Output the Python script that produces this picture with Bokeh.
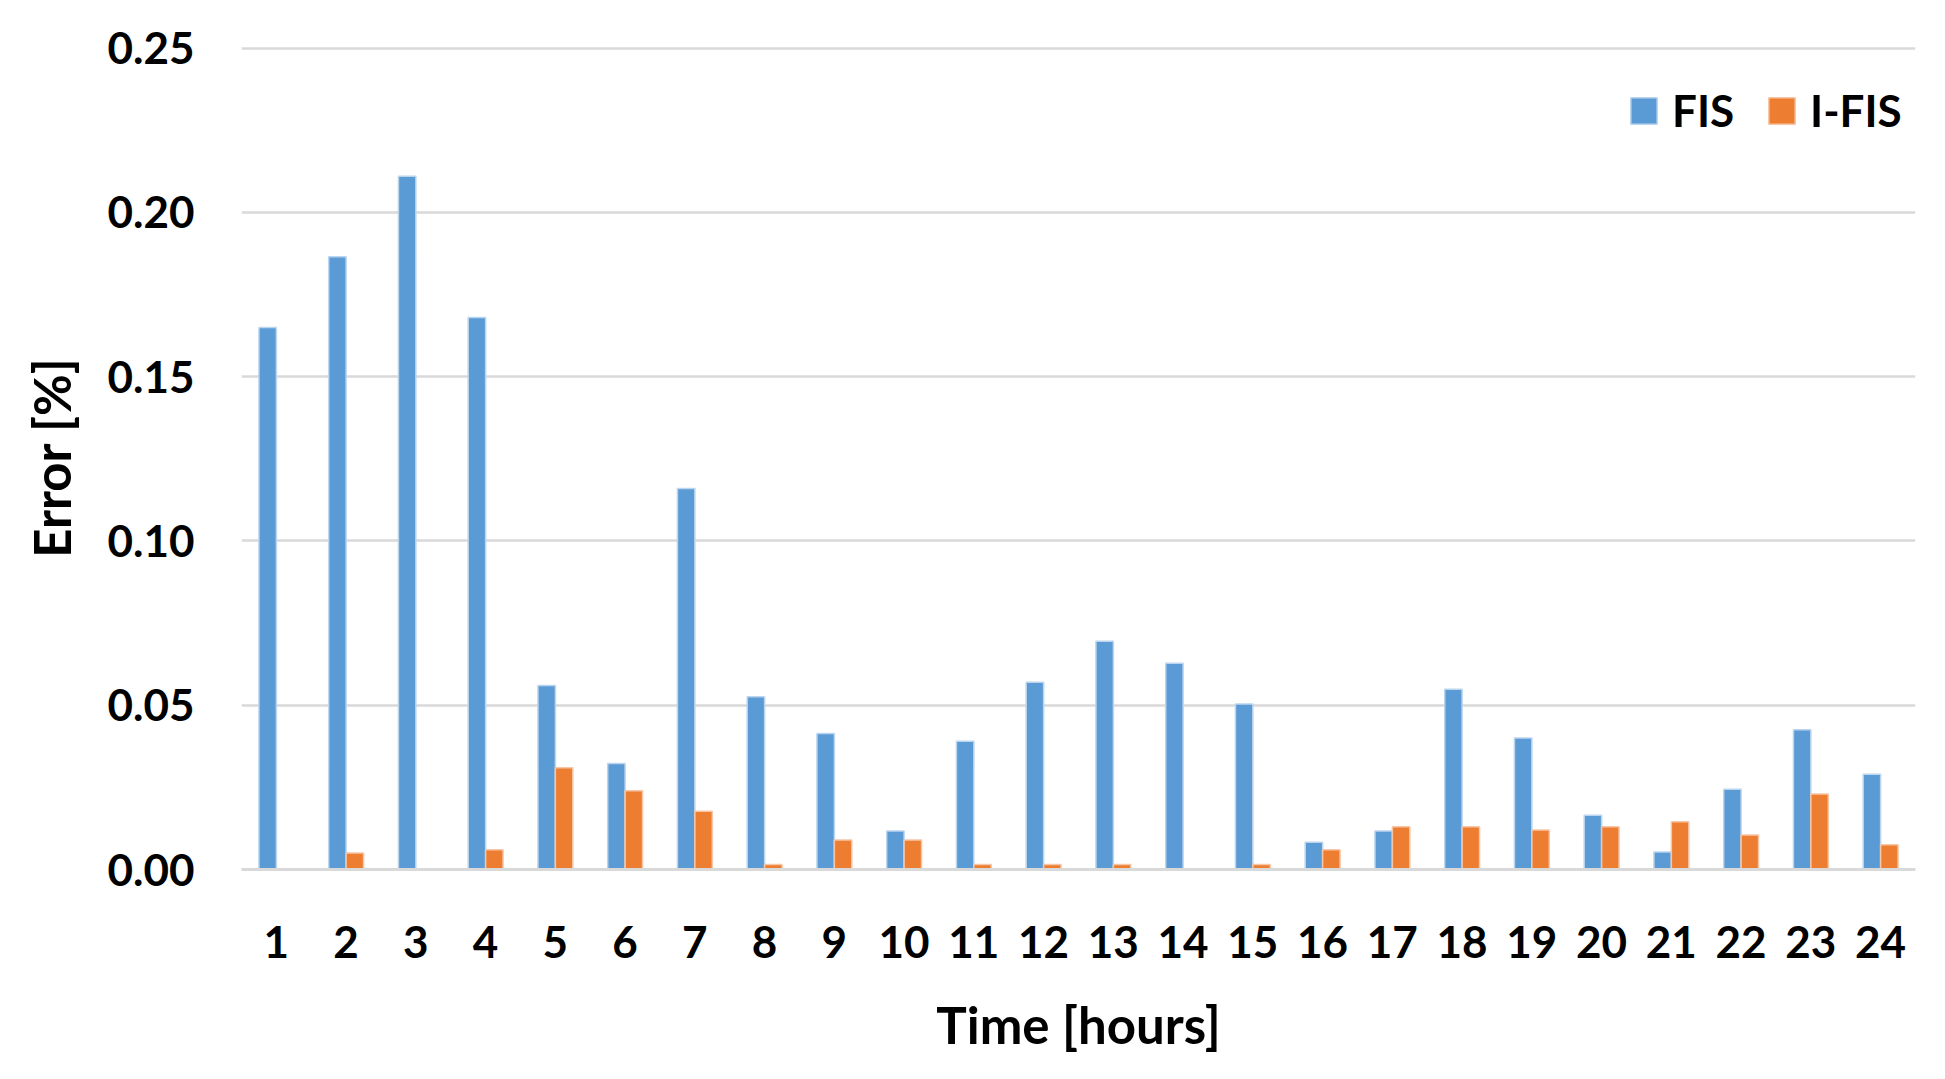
from bokeh.plotting import figure
from bokeh.models import ColumnDataSource, FixedTicker, NumeralTickFormatter, Range1d, Legend, LegendItem
from bokeh.transform import dodge
from bokeh.embed import file_html
from bokeh.resources import INLINE

hours = list(range(1, 25))
fis = [0.165, 0.1865, 0.211, 0.168, 0.056, 0.0323, 0.116, 0.0526, 0.0414, 0.0117, 0.039, 0.057,
       0.0695, 0.0628, 0.0504, 0.0083, 0.0117, 0.0549, 0.040, 0.0165, 0.0053, 0.0244, 0.0425, 0.029]
ifis = [0.0, 0.005, 0.0, 0.006, 0.031, 0.024, 0.0177, 0.0015, 0.009, 0.009, 0.0015, 0.0015,
        0.0015, 0.0, 0.0015, 0.006, 0.013, 0.013, 0.012, 0.013, 0.0145, 0.0105, 0.023, 0.0075]
y_ticks = [0.0, 0.05, 0.10, 0.15, 0.20, 0.25]

src = ColumnDataSource(dict(hour=hours, fis=fis, ifis=ifis))

FONT = "Lato"
p = figure(width=1929, height=1063, output_backend="svg", toolbar_location=None,
           x_range=Range1d(0.5, 24.5), y_range=Range1d(0, 0.2508),
           min_border_left=241, min_border_right=14, min_border_top=45, min_border_bottom=194)
p.outline_line_color = None
p.background_fill_color = "white"

r1 = p.vbar(x=dodge("hour", -0.125, range=p.x_range), top="fis", width=0.25, source=src,
            fill_color="#5b9bd5", line_color="#bcd5ee", line_width=1.5)
r2 = p.vbar(x=dodge("hour", 0.125, range=p.x_range), top="ifis", width=0.25, source=src,
            fill_color="#ed7d31", line_color="#f7c6a6", line_width=1.5)

p.xgrid.grid_line_color = None
p.ygrid.ticker = FixedTicker(ticks=y_ticks)
p.ygrid.grid_line_color = "#d9d9d9"
p.ygrid.grid_line_width = 2.5

p.yaxis.ticker = FixedTicker(ticks=y_ticks)
p.yaxis.formatter = NumeralTickFormatter(format="0.00")
p.xaxis.ticker = FixedTicker(ticks=hours)

for ax in (p.xaxis[0], p.yaxis[0]):
    ax.major_tick_line_color = None
    ax.minor_tick_line_color = None
    ax.major_label_text_font = FONT
    ax.major_label_text_font_style = "bold"
    ax.major_label_text_font_size = "44px"
    ax.major_label_text_color = "black"
    ax.axis_label_text_font = FONT
    ax.axis_label_text_font_style = "bold"
    ax.axis_label_text_font_size = "51px"
    ax.axis_label_text_color = "black"

p.yaxis.axis_line_color = None
p.xaxis.axis_line_color = "#d9d9d9"
p.xaxis.axis_line_width = 3
p.yaxis.major_label_standoff = 41
p.xaxis.major_label_standoff = 50
p.yaxis.axis_label = "Error [%]"
p.xaxis.axis_label = "Time [hours]"
p.yaxis.axis_label_standoff = 22
p.xaxis.axis_label_standoff = 33

legend = Legend(items=[LegendItem(label="FIS", renderers=[r1]), LegendItem(label="I-FIS", renderers=[r2])],
                orientation="horizontal", location=(1386, 733), border_line_color=None,
                background_fill_alpha=0, padding=0, margin=0, spacing=31,
                glyph_width=33, glyph_height=33, label_standoff=12,
                label_text_font=FONT, label_text_font_style="bold", label_text_font_size="44px",
                label_text_color="black")
p.add_layout(legend)

open("out.html", "w").write(file_html(p, INLINE))
